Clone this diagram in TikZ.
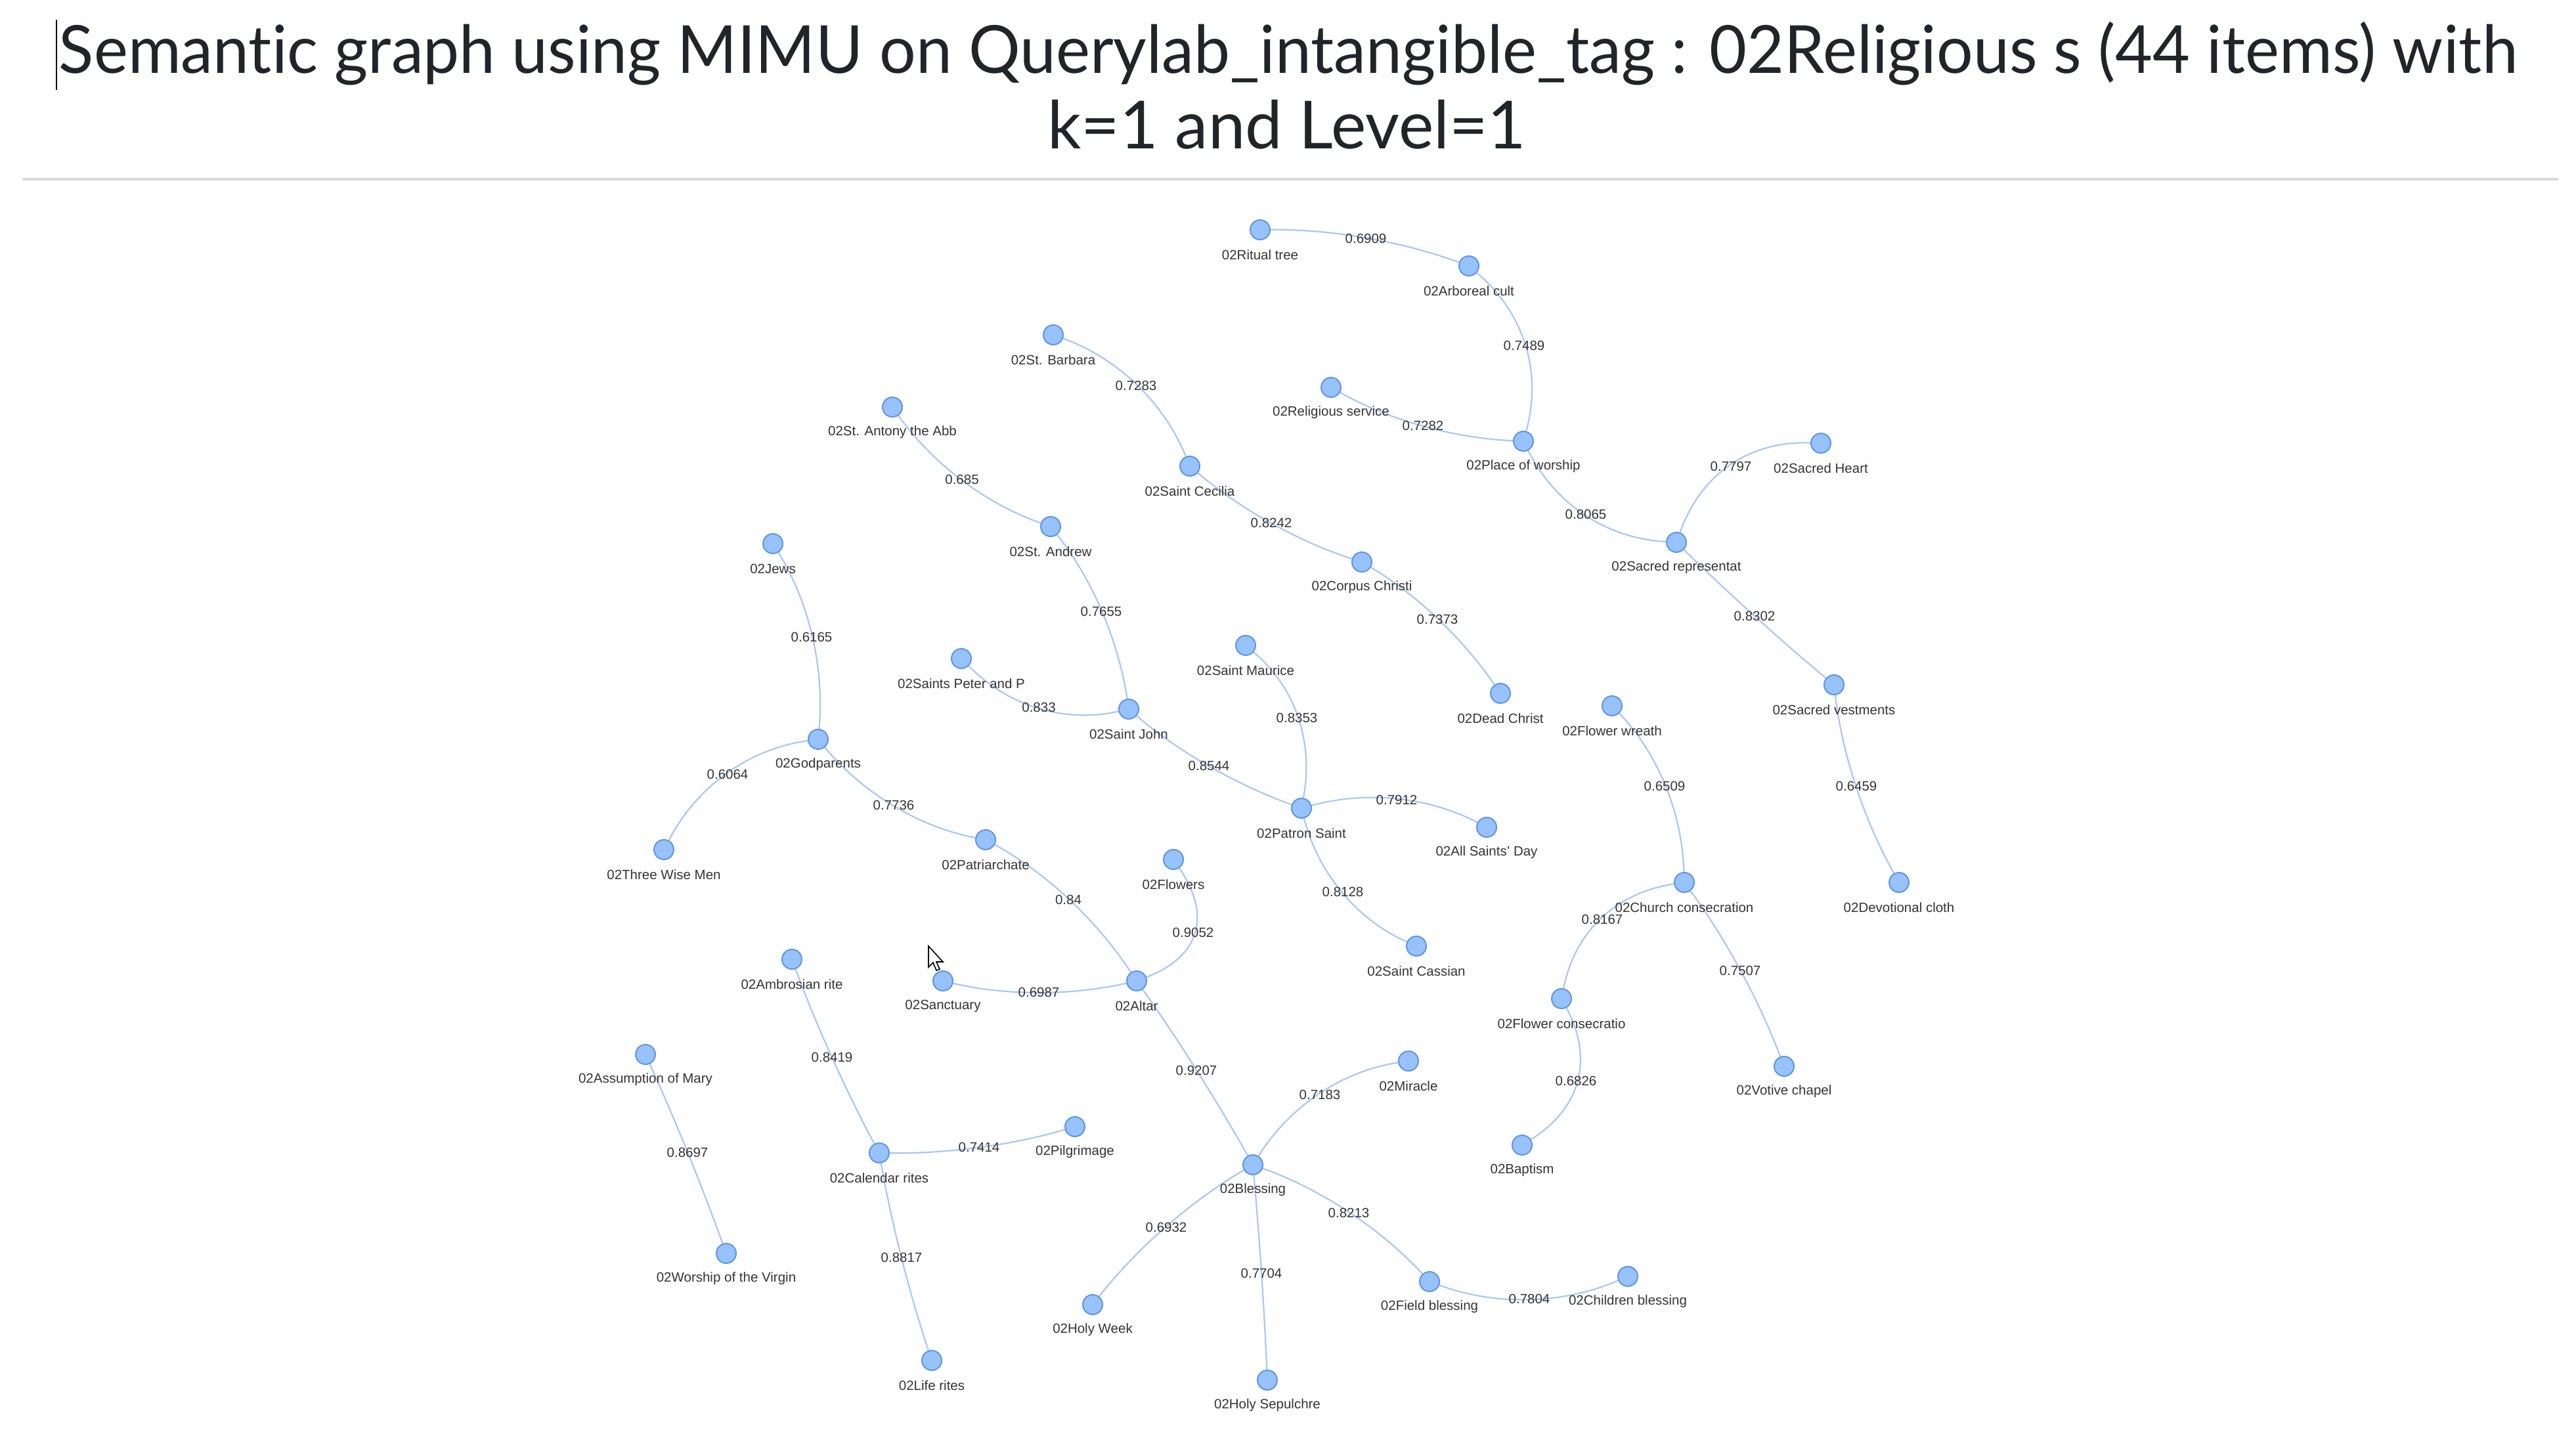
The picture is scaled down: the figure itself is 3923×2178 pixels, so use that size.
\documentclass[tikz,border=0pt]{standalone}
\usepackage{fontspec}
\setmainfont{Liberation Sans}
\newfontfamily\titlefont[Ligatures=NoCommon]{Lato}
\usetikzlibrary{calc}
\definecolor{nfill}{HTML}{97C2FC}
\definecolor{nborder}{HTML}{5E96E6}
\definecolor{ecol}{HTML}{A9C8F2}
\definecolor{tcol}{HTML}{343434}
\definecolor{titlecol}{HTML}{212529}
\definecolor{rulecol}{HTML}{DADADA}
\pgfdeclarelayer{bgfill}
\pgfdeclarelayer{edges}
\pgfsetlayers{bgfill,edges,main}
\tikzset{
  gnode/.style={circle, minimum size=30pt, inner sep=0pt, fill=nfill, draw=nborder, line width=2pt},
  nlab/.style={inner sep=0pt, text=tcol, font=\fontsize{20.5}{24}\selectfont},
  elab/.style={inner sep=0pt, text=tcol, font=\fontsize{20.5}{24}\selectfont},
  edge/.style={draw=ecol, line width=2.2pt},
  ttl/.style={inner sep=0pt, anchor=base, text=titlecol, font=\titlefont\fontsize{101}{110}\selectfont}
}
\newcommand\gn[4]{\node[gnode] (#1) at (#2,#3) {};\node[nlab] (#1-l) at (#2,#3+38) {#4};}
\newcommand\ed[5]{\node[elab] (#1) at (#4) {#5};
  \begin{pgfonlayer}{edges}
  \draw[edge] (#2) .. controls ($1.3333*(#1.center)-0.3333*(#3.center)$) and ($1.3333*(#1.center)-0.3333*(#2.center)$) .. (#3);
  \end{pgfonlayer}}
\begin{document}
\begin{tikzpicture}[x=1pt,y=-1pt]
\begin{pgfonlayer}{bgfill}
\fill[white] (0,0) rectangle (3923,2178);
\end{pgfonlayer}
\useasboundingbox (0,0) rectangle (3923,2178);
% title
\node[ttl] (title1) at (1962,112) {\scalebox{0.973}[1]{Semantic graph using MIMU on Querylab\_intangible\_tag : 02Religious s (44 items) with}};
\node[ttl] (title2) at (1960,226) {k=1 and Level=1};
\coordinate (caretT) at (86,30);
\coordinate (caretB) at (86,137);
\draw[black, line width=2pt] (caretT) -- (caretB);
\coordinate (ruleL) at (34,273);
\coordinate (ruleR) at (3896,273);
\draw[rulecol, line width=4pt] (ruleL) -- (ruleR);
% nodes
\gn{ritual}{1919}{350}{02Ritual tree}
\gn{arbor}{2237}{405}{02Arboreal cult}
\gn{barbara}{1604}{510}{02St. Barbara}
\gn{relserv}{2027}{590}{02Religious service}
\gn{worship}{2320}{672}{02Place of worship}
\gn{heart}{2773}{675}{02Sacred Heart}
\gn{antony}{1359}{620}{02St. Antony the Abb}
\gn{cecilia}{1812}{710}{02Saint Cecilia}
\gn{andrew}{1600}{802}{02St. Andrew}
\gn{sacrep}{2553}{826}{02Sacred representat}
\gn{corpus}{2074}{856}{02Corpus Christi}
\gn{jews}{1177}{828}{02Jews}
\gn{maurice}{1897}{983}{02Saint Maurice}
\gn{peter}{1464}{1003}{02Saints Peter and P}
\gn{john}{1719}{1080}{02Saint John}
\gn{dead}{2285}{1056}{02Dead Christ}
\gn{vest}{2793}{1043}{02Sacred vestments}
\gn{wreath}{2455}{1075}{02Flower wreath}
\gn{godp}{1246}{1126}{02Godparents}
\gn{patron}{1982}{1231}{02Patron Saint}
\gn{allsaints}{2264}{1260}{02All Saints' Day}
\gn{wise}{1011}{1294}{02Three Wise Men}
\gn{patri}{1501}{1279}{02Patriarchate}
\gn{flowers}{1787}{1309}{02Flowers}
\gn{church}{2565}{1344}{02Church consecration}
\gn{cloth}{2892}{1344}{02Devotional cloth}
\gn{cassian}{2157}{1441}{02Saint Cassian}
\gn{ambro}{1206}{1461}{02Ambrosian rite}
\gn{sanct}{1436}{1494}{02Sanctuary}
\gn{altar}{1731}{1494}{02Altar}
\gn{flcons}{2378}{1521}{02Flower consecratio}
\gn{assump}{983}{1606}{02Assumption of Mary}
\gn{miracle}{2145}{1616}{02Miracle}
\gn{votive}{2717}{1624}{02Votive chapel}
\gn{pilgr}{1637}{1716}{02Pilgrimage}
\gn{baptism}{2318}{1744}{02Baptism}
\gn{calendar}{1339}{1756}{02Calendar rites}
\gn{blessing}{1908}{1774}{02Blessing}
\gn{virgin}{1106}{1909}{02Worship of the Virgin}
\gn{field}{2177}{1952}{02Field blessing}
\gn{children}{2479}{1944}{02Children blessing}
\gn{holyweek}{1664}{1987}{02Holy Week}
\gn{life}{1419}{2072}{02Life rites}
\gn{sepulchre}{1930}{2102}{02Holy Sepulchre}
% edges
\ed{l1}{ritual}{arbor}{2080,363}{0.6909}
\ed{l2}{arbor}{worship}{2321,526}{0.7489}
\ed{l3}{relserv}{worship}{2167,648}{0.7282}
\ed{l4}{worship}{sacrep}{2415,783}{0.8065}
\ed{l5}{sacrep}{heart}{2636,710}{0.7797}
\ed{l6}{sacrep}{vest}{2672,938}{0.8302}
\ed{l7}{vest}{cloth}{2827,1197}{0.6459}
\ed{l8}{barbara}{cecilia}{1730,587}{0.7283}
\ed{l9}{cecilia}{corpus}{1936,796}{0.8242}
\ed{l10}{corpus}{dead}{2189,943}{0.7373}
\ed{l11}{antony}{andrew}{1465,730}{0.685}
\ed{l12}{andrew}{john}{1677,931}{0.7655}
\ed{l13}{peter}{john}{1582,1077}{0.833}
\ed{l14}{john}{patron}{1841,1166}{0.8544}
\ed{l15}{maurice}{patron}{1975,1093}{0.8353}
\ed{l16}{patron}{allsaints}{2127,1218}{0.7912}
\ed{l17}{patron}{cassian}{2045,1358}{0.8128}
\ed{l18}{jews}{godp}{1236,970}{0.6165}
\ed{l19}{godp}{wise}{1108,1179}{0.6064}
\ed{l20}{godp}{patri}{1361,1226}{0.7736}
\ed{l21}{patri}{altar}{1627,1370}{0.84}
\ed{l22}{flowers}{altar}{1817,1420}{0.9052}
\ed{l23}{sanct}{altar}{1582,1511}{0.6987}
\ed{l24}{altar}{blessing}{1822,1630}{0.9207}
\ed{l25}{blessing}{miracle}{2010,1667}{0.7183}
\ed{l26}{blessing}{field}{2054,1847}{0.8213}
\ed{l27}{blessing}{holyweek}{1776,1869}{0.6932}
\ed{l28}{blessing}{sepulchre}{1921,1939}{0.7704}
\ed{l29}{field}{children}{2329,1978}{0.7804}
\ed{l30}{wreath}{church}{2535,1197}{0.6509}
\ed{l31}{church}{flcons}{2440,1400}{0.8167}
\ed{l32}{church}{votive}{2650,1478}{0.7507}
\ed{l33}{flcons}{baptism}{2400,1646}{0.6826}
\ed{l34}{ambro}{calendar}{1267,1610}{0.8419}
\ed{l35}{calendar}{pilgr}{1491,1747}{0.7414}
\ed{l36}{calendar}{life}{1373,1915}{0.8817}
\ed{l37}{assump}{virgin}{1047,1755}{0.8697}
% mouse pointer
\begin{scope}[shift={(1414,1441)}]
\filldraw[fill=white, draw=black, line width=1.6pt, line join=miter] (0,0) -- (0,32) -- (7,25) -- (12,37) -- (17,35) -- (12,24) -- (22,24) -- cycle;
\end{scope}
\end{tikzpicture}
\end{document}
